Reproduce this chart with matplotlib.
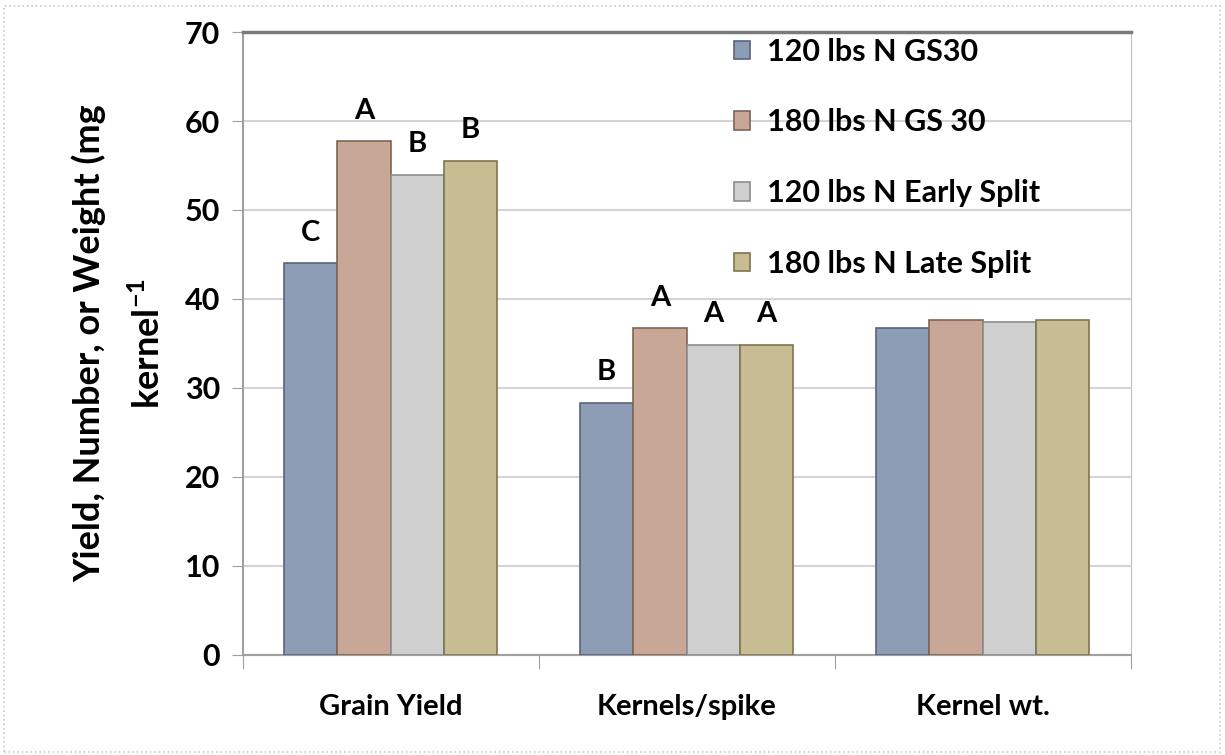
import numpy as np
from matplotlib import pyplot as plt
from matplotlib.patches import Rectangle

categories = ["Grain Yield", "Kernels/spike", "Kernel wt."]
series = ["120 lbs N GS30", "180 lbs N GS 30", "120 lbs N Early Split", "180 lbs N Late Split"]
values = {
    "120 lbs N GS30": [44.0, 28.3, 36.7],
    "180 lbs N GS 30": [57.7, 36.7, 37.6],
    "120 lbs N Early Split": [53.9, 34.8, 37.4],
    "180 lbs N Late Split": [55.5, 34.8, 37.6],
}
letters = {
    "120 lbs N GS30": ["C", "B", ""],
    "180 lbs N GS 30": ["A", "A", ""],
    "120 lbs N Early Split": ["B", "A", ""],
    "180 lbs N Late Split": ["B", "A", ""],
}
colors = ["#8e9db6", "#c8a796", "#cfcfcf", "#c8bc92"]
edges = ["#5b6478", "#7f6456", "#8c8c8c", "#7d744f"]

plt.rcParams['font.family'] = ['Lato', 'DejaVu Sans']
plt.rcParams['font.weight'] = 'bold'

fig = plt.figure(figsize=(12.25, 7.55), dpi=100)
ax = fig.add_axes([0.198, 0.1325, 0.725, 0.8251])

x = np.arange(len(categories))
width = 0.18
for i, name in enumerate(series):
    pos = x + (i - 1.5) * width
    ax.bar(pos, values[name], width, color=colors[i], edgecolor=edges[i],
           linewidth=1.2, label=name, zorder=3)
    for px, v, t in zip(pos, values[name], letters[name]):
        if t:
            ax.text(px, v + 2.0, t, ha='center', va='bottom', fontsize=21,
                    fontweight='bold', zorder=4)

ax.set_ylim(0, 70)
ax.set_xlim(-0.5, 2.5)
ax.set_yticks(range(0, 71, 10))
ax.tick_params(axis='y', labelsize=22, length=8, color='#a0a0a0', pad=8)
ax.set_xticks([-0.5, 0.5, 1.5, 2.5])
ax.set_xticklabels([])
ax.set_xticks(x, minor=True)
ax.set_xticklabels(categories, minor=True)
ax.tick_params(axis='x', which='major', length=10, color='#a0a0a0')
ax.tick_params(axis='x', which='minor', length=0, labelsize=21, pad=28)

ax.grid(axis='y', color='#d4d4d4', linewidth=1.5, zorder=0)
ax.set_axisbelow(True)
ax.spines['top'].set_color('#7a7a7a')
ax.spines['top'].set_linewidth(2.5)
ax.spines['right'].set_color('#c0c0c0')
ax.spines['left'].set_color('#a0a0a0')
ax.spines['bottom'].set_color('#a0a0a0')
for s in ax.spines.values():
    s.set_zorder(1)
ax.spines['left'].set_linewidth(1.5)
ax.spines['bottom'].set_linewidth(1.5)

ax.set_ylabel("Yield, Number, or Weight (mg\nkernel$^{\\mathregular{-1}}$", fontsize=26,
              fontweight='bold', labelpad=14, linespacing=1.75)

leg = ax.legend(loc='upper left', bbox_to_anchor=(0.522, 1.035), frameon=False,
                fontsize=22, handlelength=0.55, handleheight=0.55,
                labelspacing=1.4, handletextpad=0.55)

fig.patches.append(Rectangle((0.003, 0.004), 0.993, 0.988, transform=fig.transFigure,
                             fill=False, edgecolor='#c8c8c8', linestyle=':', linewidth=1.2))

fig.savefig("out.png", dpi=100)
